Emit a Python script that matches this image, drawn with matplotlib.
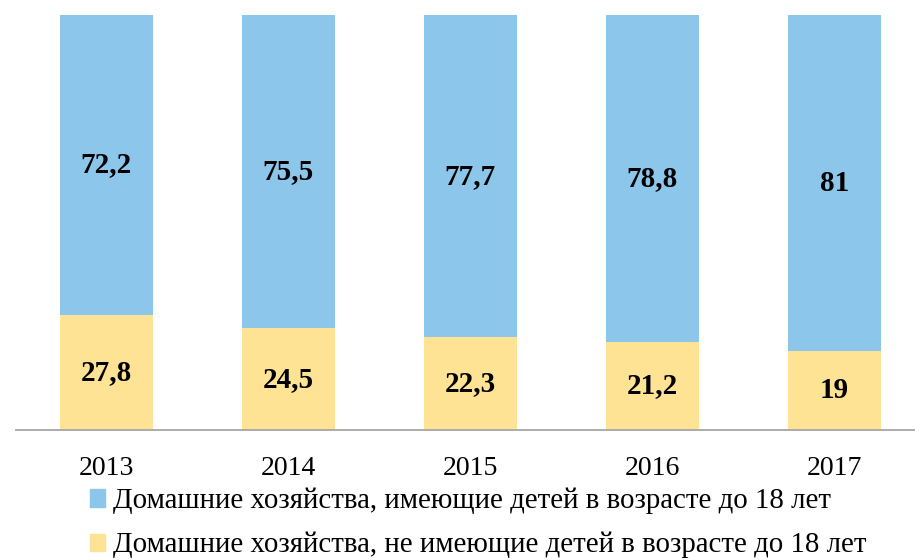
import matplotlib.pyplot as plt
from matplotlib.patches import Patch

years = ['2013', '2014', '2015', '2016', '2017']
with_kids = [72.2, 75.5, 77.7, 78.8, 81]
without_kids = [27.8, 24.5, 22.3, 21.2, 19]
with_labels = ['72,2', '75,5', '77,7', '78,8', '81']
without_labels = ['27,8', '24,5', '22,3', '21,2', '19']

blue = '#8CC6EA'
yellow = '#FEE394'

plt.rcParams['font.family'] = ['Liberation Serif', 'DejaVu Serif']

fig = plt.figure(figsize=(9.15, 5.6), dpi=100)
ax = fig.add_axes([16 / 915, 130 / 560, 899 / 915, 415 / 560])

x = range(len(years))
ax.bar(x, without_kids, width=93 / 182, color=yellow)
ax.bar(x, with_kids, width=93 / 182, bottom=without_kids, color=blue)

for i in x:
    ax.text(i, without_kids[i] / 2, without_labels[i], ha='center', va='center',
            fontsize=21, fontweight='bold')
    ax.text(i, without_kids[i] + with_kids[i] / 2, with_labels[i], ha='center',
            va='center', fontsize=21, fontweight='bold')

ax.set_xlim(-90.5 / 182, 4 + 80.5 / 182)
ax.set_ylim(0, 100)
ax.set_xticks(list(x))
ax.set_xticklabels(years, fontsize=20)
ax.tick_params(axis='x', length=0, pad=19)
ax.set_yticks([])
for s in ['top', 'right', 'left']:
    ax.spines[s].set_visible(False)
ax.spines['bottom'].set_color('#A6A6A6')
ax.spines['bottom'].set_linewidth(1.3)

handles = [Patch(color=blue), Patch(color=yellow)]
labels = ['Домашние хозяйства, имеющие детей в возрасте до 18 лет',
          'Домашние хозяйства, не имеющие детей в возрасте до 18 лет']
fig.legend(handles, labels, loc='upper left', bbox_to_anchor=(78 / 915, 1 - 476 / 560),
           frameon=False, fontsize=20.8, handlelength=0.55, handleheight=0.55,
           handletextpad=0.25, labelspacing=0.62, borderaxespad=0)

fig.savefig('out.png', dpi=100)
